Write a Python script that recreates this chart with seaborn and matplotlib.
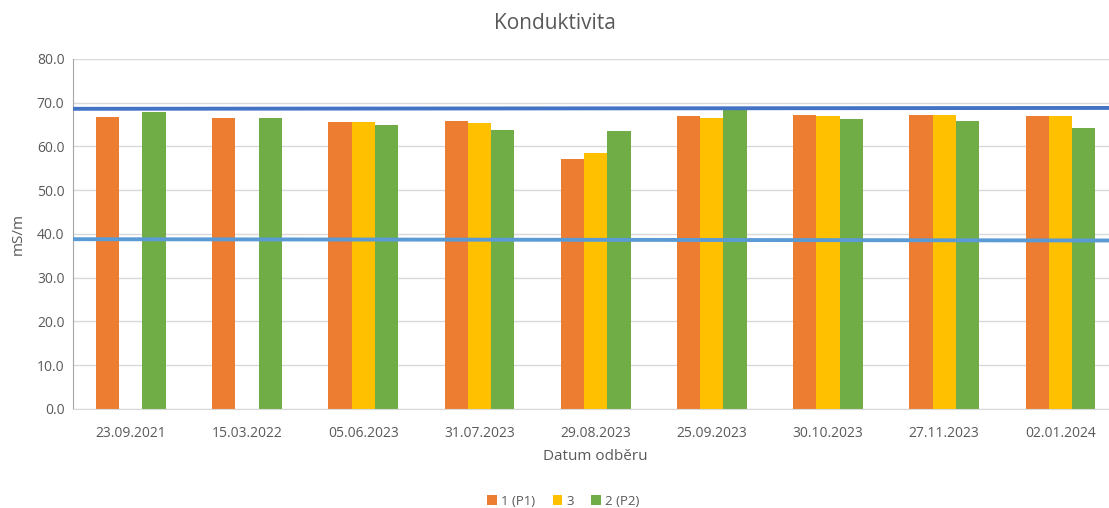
import numpy as np
import pandas as pd
import matplotlib.pyplot as plt
import seaborn as sns

# Data
dates = ['23.09.2021', '15.03.2022', '05.06.2023', '31.07.2023', '29.08.2023',
         '25.09.2023', '30.10.2023', '27.11.2023', '02.01.2024']
p1 = [66.7, 66.4, 65.5, 65.8, 57.1, 67.0, 67.2, 67.2, 66.9]
s3 = [np.nan, np.nan, 65.5, 65.4, 58.5, 66.5, 67.0, 67.2, 66.9]
p2 = [67.8, 66.4, 65.0, 63.8, 63.5, 68.8, 66.2, 65.7, 64.3]
series_names = ['1 (P1)', '3', '2 (P2)']
upper_line = [68.6, 68.8]
lower_line = [38.8, 38.5]

df = pd.DataFrame({'Datum': dates, series_names[0]: p1, series_names[1]: s3, series_names[2]: p2})
df_long = df.melt(id_vars='Datum', var_name='serie', value_name='val')

sns.set_style('white')
plt.rcParams['font.family'] = ['Open Sans', 'DejaVu Sans']

fig = plt.figure(figsize=(11.09, 5.08), dpi=100)
# plot area is slightly cut off on the right in the original
ax = fig.add_axes([0.0656, 0.195, 0.943, 0.689])

colors = ['#ED7D31', '#FFC000', '#70AD47']
sns.barplot(data=df_long, x='Datum', y='val', hue='serie', hue_order=series_names,
            palette=colors, saturation=1, width=0.6, ax=ax, legend=True, zorder=2,
            edgecolor='none')

x_edges = [-0.5, len(dates) - 0.5]
ax.plot(x_edges, upper_line, color='#4472C4', lw=2.8, zorder=3, solid_capstyle='butt')
ax.plot(x_edges, lower_line, color='#5B9BD5', lw=2.8, zorder=3, solid_capstyle='butt')

ax.set_xlim(-0.5, len(dates) - 0.5)
ax.set_ylim(0, 80)
ax.set_yticks(np.arange(0, 81, 10))
ax.set_yticklabels([f'{v:.1f}' for v in np.arange(0, 81, 10)])
ax.yaxis.grid(True, color='#D9D9D9', lw=1, zorder=0)
ax.set_axisbelow(True)

for s in ['top', 'right']:
    ax.spines[s].set_visible(False)
ax.spines['left'].set_color('#A6A6A6')
ax.spines['bottom'].set_color('#D9D9D9')

# category separator ticks
ax.set_xticks(np.arange(-0.5, len(dates), 1), minor=True)
ax.tick_params(axis='x', which='minor', length=6, color='#D9D9D9', width=1)
ax.tick_params(axis='x', which='major', length=0, pad=12, labelsize=10, labelcolor='#595959')
ax.tick_params(axis='y', length=0, pad=6, labelsize=10, labelcolor='#595959')

ax.set_xlabel('Datum odběru', fontsize=11, color='#595959', labelpad=6)
ax.set_ylabel('mS/m', fontsize=11, color='#595959', labelpad=8)
fig.suptitle('Konduktivita', fontsize=15, color='#595959', y=0.975)

handles, labels = ax.get_legend_handles_labels()
ax.get_legend().remove()
fig.legend(handles, labels, loc='center', bbox_to_anchor=(0.508, 0.013), ncol=3,
           frameon=False, fontsize=9.5, handlelength=0.75, handleheight=0.75,
           handletextpad=0.3, columnspacing=1.3, labelcolor='#595959')

fig.savefig('out.png', dpi=100)
